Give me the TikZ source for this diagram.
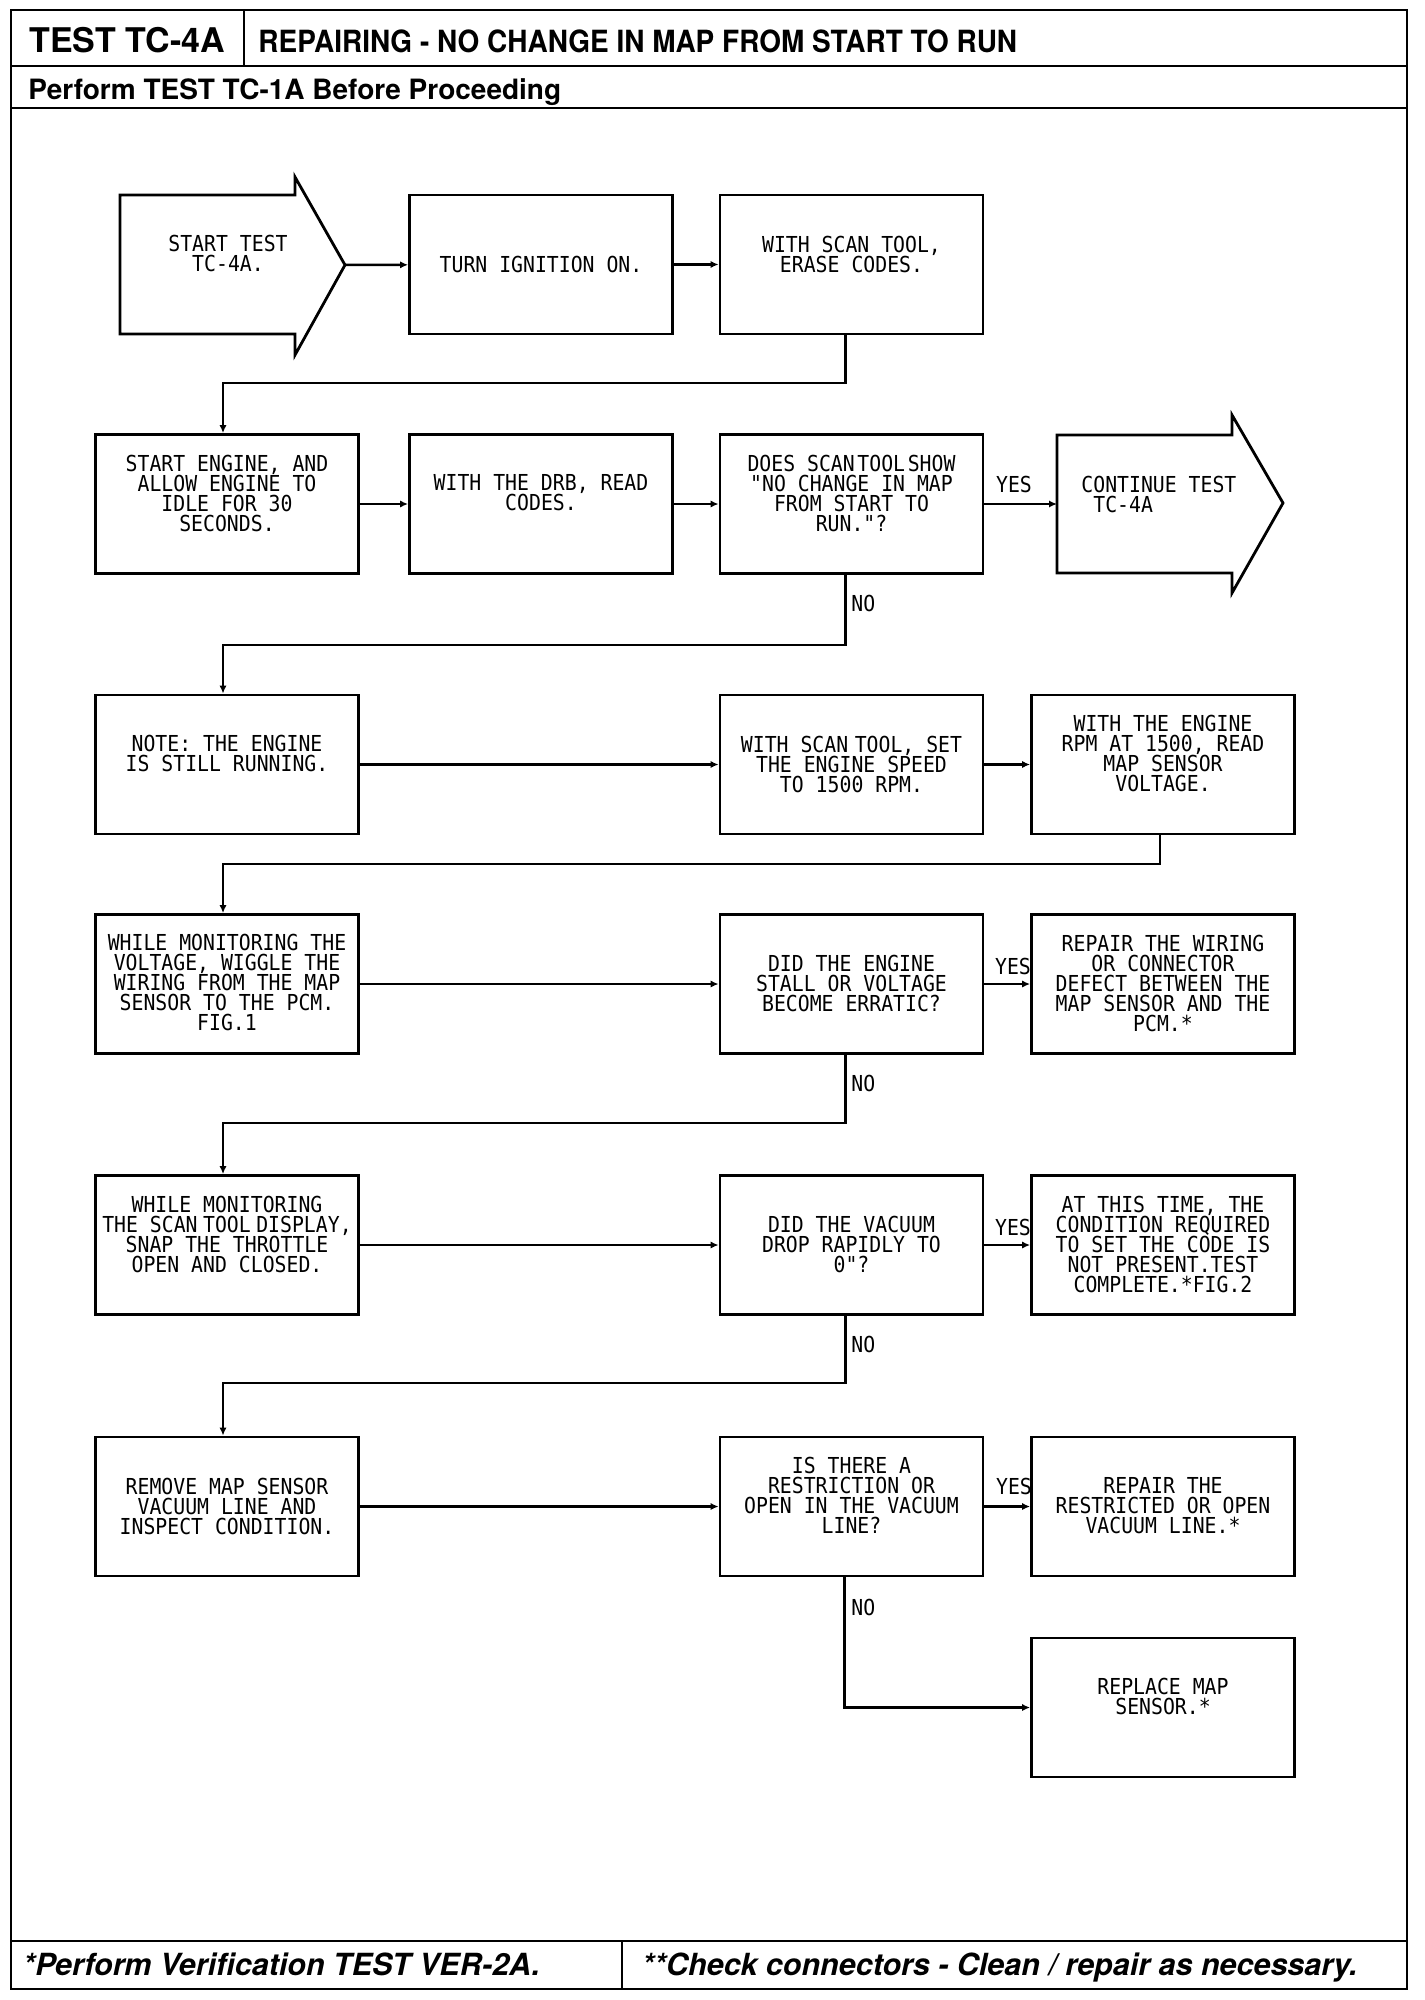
\documentclass[tikz,border=0pt]{standalone}
\usepackage{fontspec}
\usepackage{graphicx}
\newfontfamily\plotfont[FakeStretch=0.9]{DejaVu Sans Mono}
\newfontfamily\heros{TeX Gyre Heros}
\usetikzlibrary{arrows.meta,calc}
\begin{document}
\begin{tikzpicture}[x=0.5pt,y=-0.5pt,
  frame/.style={line width=1.4pt,line join=miter},
  stepbox/.style={draw,line width=1.4pt,minimum width=131.5pt,minimum height=69.5pt,inner sep=0pt},
  txt/.style={font=\plotfont\fontsize{11pt}{10pt}\selectfont,align=center,inner sep=0pt},
  lbl/.style={font=\plotfont\fontsize{11pt}{10pt}\selectfont,inner sep=0pt},
  arr/.style={line width=1.25pt,-{Latex[length=4pt,width=3.6pt]}},
  hdr/.style={anchor=base west,inner sep=0pt},
]
\useasboundingbox (0,0) rectangle (1424,2000);
% frame
\draw[frame] (11,10) rectangle (1407,1989);
\draw[frame] (11,66) -- (1407,66);
\draw[frame] (244,10) -- (244,66);
\draw[frame] (11,108) -- (1407,108);
\draw[frame] (11,1941) -- (1407,1941);
\draw[frame] (622,1941) -- (622,1989);
\node[hdr,font=\heros\bfseries\fontsize{17pt}{20pt}\selectfont] (hd) at (29,53) {TEST TC-4A};
\node[hdr,font=\heros\bfseries\fontsize{15.3pt}{18pt}\selectfont] (ttl) at (258,53) {\scalebox{0.914}[1]{REPAIRING - NO CHANGE IN MAP FROM START TO RUN}};
\node[hdr,font=\heros\bfseries\fontsize{14pt}{17pt}\selectfont] (sub) at (28,100) {Perform TEST TC-1A Before Proceeding};
\node[hdr,font=\heros\bfseries\itshape\fontsize{15.25pt}{18pt}\selectfont] (f1) at (23,1975) {*Perform Verification TEST VER-2A.};
\node[hdr,font=\heros\bfseries\itshape\fontsize{15.25pt}{18pt}\selectfont] (f2) at (642,1975) {**Check connectors - Clean / repair as necessary.};

% row 1
\draw[frame] (120,195) -- (295,195) -- (295,177) -- (345,265) -- (295,355) -- (295,334) -- (120,334) -- cycle;
\coordinate (s1) at (345,265);
\node[txt] (t1a) at (228,253) {START TEST\\TC-4A.};
\node[stepbox] (r1b) at (541,264.5) {};
\node[txt] (t1b) at (541,264) {TURN IGNITION ON.};
\node[stepbox] (r1c) at (851.5,264.5) {};
\node[txt] (t1c) at (851.5,254.5) {WITH SCAN TOOL,\\ERASE CODES.};

% row 2
\node[stepbox] (r2a) at (227,504) {};
\node[txt] (t2a) at (227,493) {START ENGINE, AND\\ALLOW ENGINE TO\\IDLE FOR 30\\SECONDS.};
\node[stepbox] (r2b) at (541,504) {};
\node[txt] (t2b) at (541,493) {WITH THE DRB, READ\\CODES.};
\node[stepbox] (r2c) at (851.5,504) {};
\node[txt] (t2c) at (851.5,493) {DOES SCAN\hspace{0.12em}TOOL\hspace{0.12em}SHOW\\"NO CHANGE IN MAP\\FROM START TO\\RUN."?};
\draw[frame] (1057,435) -- (1232,435) -- (1232,415) -- (1283,503) -- (1232,593) -- (1232,573) -- (1057,573) -- cycle;
\coordinate (c2) at (1057,504);
\node[txt,align=left,anchor=west] (t2d) at (1081,494) {CONTINUE TEST\\\phantom{C}TC-4A};

% rows 3-7
\node[stepbox] (r3a) at (227,764.5) {};
\node[txt] (t3a) at (227,753) {NOTE: THE ENGINE\\IS STILL RUNNING.};
\node[stepbox] (r3c) at (851.5,764.5) {};
\node[txt] (t3c) at (851.5,764) {WITH SCAN\hspace{0.3em}TOOL, SET\\THE ENGINE SPEED\\TO 1500 RPM.};
\node[stepbox] (r3d) at (1163,764.5) {};
\node[txt] (t3d) at (1163,753.5) {WITH THE ENGINE\\RPM AT 1500, READ\\MAP SENSOR\\VOLTAGE.};

\node[stepbox] (r4a) at (227,984) {};
\node[txt] (t4a) at (227,982) {WHILE MONITORING THE\\VOLTAGE, WIGGLE THE\\WIRING FROM THE MAP\\SENSOR TO THE PCM.\\FIG.1};
\node[stepbox] (r4c) at (851.5,984) {};
\node[txt] (t4c) at (851.5,983) {DID THE ENGINE\\STALL OR VOLTAGE\\BECOME ERRATIC?};
\node[stepbox] (r4d) at (1163,984) {};
\node[txt] (t4d) at (1163,983) {REPAIR THE WIRING\\OR CONNECTOR\\DEFECT BETWEEN THE\\MAP SENSOR AND THE\\PCM.*};

\node[stepbox] (r5a) at (227,1245) {};
\node[txt] (t5a) at (227,1234) {WHILE MONITORING\\THE SCAN\hspace{0.25em}TOOL\hspace{0.25em}DISPLAY,\\SNAP THE THROTTLE\\OPEN AND CLOSED.};
\node[stepbox] (r5c) at (851.5,1245) {};
\node[txt] (t5c) at (851.5,1244) {DID THE VACUUM\\DROP RAPIDLY TO\\0"?};
\node[stepbox] (r5d) at (1163,1245) {};
\node[txt] (t5d) at (1163,1244) {AT THIS TIME, THE\\CONDITION REQUIRED\\TO SET THE CODE IS\\NOT PRESENT.TEST\\COMPLETE.*FIG.2};

\node[stepbox] (r6a) at (227,1506.5) {};
\node[txt] (t6a) at (227,1506) {REMOVE MAP SENSOR\\VACUUM LINE AND\\INSPECT CONDITION.};
\node[stepbox] (r6c) at (851.5,1506.5) {};
\node[txt] (t6c) at (851.5,1495.5) {IS THERE A\\RESTRICTION OR\\OPEN IN THE VACUUM\\LINE?};
\node[stepbox] (r6d) at (1163,1506.5) {};
\node[txt] (t6d) at (1163,1506) {REPAIR THE\\RESTRICTED OR OPEN\\VACUUM LINE.*};

\node[stepbox] (r7d) at (1163,1707.5) {};
\node[txt] (t7d) at (1163,1696) {REPLACE MAP\\SENSOR.*};

% junction levels
\coordinate (j1) at (0,383);
\coordinate (j2) at (0,645);
\coordinate (j3) at (0,864);
\coordinate (j4) at (0,1123);
\coordinate (j5) at (0,1383);

% connectors
\draw[arr] (s1) -- (r1b);
\draw[arr] (r1b) -- (r1c);
\draw[arr] ($(r1c.south)+(-6,0)$) |- ($(j1 -| r2a.north)+(-4,0)$) -- ($(r2a.north)+(-4,0)$);

\draw[arr] (r2a) -- (r2b);
\draw[arr] (r2b) -- (r2c);
\draw[arr] (r2c) -- (c2);
\draw[arr] ($(r2c.south)+(-6,0)$) |- ($(j2 -| r3a.north)+(-4,0)$) -- ($(r3a.north)+(-4,0)$);

\draw[arr] (r3a) -- (r3c);
\draw[arr] (r3c) -- (r3d);
\draw[arr] ($(r3d.south)+(-3,0)$) |- ($(j3 -| r4a.north)+(-4,0)$) -- ($(r4a.north)+(-4,0)$);

\draw[arr] (r4a) -- (r4c);
\draw[arr] (r4c) -- (r4d);
\draw[arr] ($(r4c.south)+(-6,0)$) |- ($(j4 -| r5a.north)+(-4,0)$) -- ($(r5a.north)+(-4,0)$);

\draw[arr] (r5a) -- (r5c);
\draw[arr] (r5c) -- (r5d);
\draw[arr] ($(r5c.south)+(-6,0)$) |- ($(j5 -| r6a.north)+(-4,0)$) -- ($(r6a.north)+(-4,0)$);

\draw[arr] (r6a) -- (r6c);
\draw[arr] (r6c) -- (r6d);
\draw[arr] ($(r6c.south)+(-7,0)$) |- (r7d.west);

% labels
\node[lbl] (y2) at (1014,484) {YES};
\node[lbl] (y4) at (1013,966) {YES};
\node[lbl] (y5) at (1013,1227) {YES};
\node[lbl] (y6) at (1014,1486) {YES};
\node[lbl,anchor=west] (n2) at (851,603) {NO};
\node[lbl,anchor=west] (n4) at (851,1083) {NO};
\node[lbl,anchor=west] (n5) at (851,1344) {NO};
\node[lbl,anchor=west] (n6) at (851,1607) {NO};
\end{tikzpicture}
\end{document}
